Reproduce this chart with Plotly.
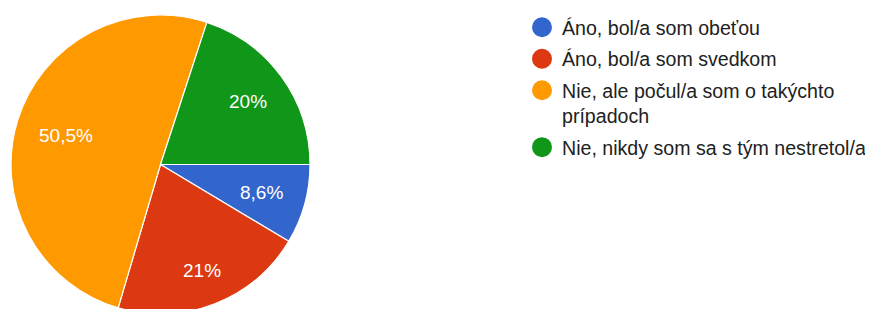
import math
import plotly.graph_objects as go

labels = ["Áno, bol/a som obeťou", "Áno, bol/a som svedkom",
          "Nie, ale počul/a som o takýchto<br>prípadoch", "Nie, nikdy som sa s tým nestretol/a"]
values = [8.6, 21, 50.5, 20]
text_labels = ["8,6%", "21%", "50,5%", "20%"]
colors = ["#3366CC", "#DC3912", "#FF9900", "#109618"]

W, H = 873, 309
M_T, M_B, M_L, M_R = 0, 3, 0, 0
PIE_X0, PIE_X1 = 3, 302          # pie domain in px (figure coords)
PIE_Y0, PIE_Y1 = 7, 306          # from top
FONT = "Liberation Sans, Arial, sans-serif"
LABEL_SIZE = 19
LEGEND_SIZE = 19.6
ROTATION = 90

plot_w = W - M_L - M_R
plot_h = H - M_T - M_B
dom_x = [(PIE_X0 - M_L) / plot_w, (PIE_X1 - M_L) / plot_w]
dom_y = [1 - (PIE_Y1 - M_T) / plot_h, 1 - (PIE_Y0 - M_T) / plot_h]

fig = go.Figure()
fig.add_trace(go.Pie(
    labels=labels, values=values, textinfo="none",
    sort=False, direction="clockwise", rotation=ROTATION,
    marker=dict(colors=colors, line=dict(color="white", width=1.2)),
    showlegend=False, domain=dict(x=dom_x, y=dom_y), hoverinfo="label+percent",
))

# legend via marker-only traces (circles)
for i, (lab, col) in enumerate(zip(labels, colors)):
    fig.add_trace(go.Scatter(x=[None], y=[None], mode="markers", name=lab,
                             legendgroup=f"g{i}",
                             marker=dict(color=col, size=16, symbol="circle",
                                         line=dict(color=col, width=4))))

# slice labels placed from the values (Google-style: text box kept inside ~0.85R)
R = min(PIE_X1 - PIE_X0, PIE_Y1 - PIE_Y0) / 2
cx_px = (PIE_X0 + PIE_X1) / 2
cy_px = (PIE_Y0 + PIE_Y1) / 2
char_w = {",": 0.278, "%": 0.889}
total = sum(values)
start = ROTATION
annotations = []
for v, t in zip(values, text_labels):
    span = v / total * 360
    mid = math.radians(start + span / 2)   # clockwise from 12 o'clock
    start += span
    sx, sy = math.sin(mid), -math.cos(mid)
    hw = sum(char_w.get(c, 0.556) for c in t) * LABEL_SIZE / 2
    hh = LABEL_SIZE * 0.358
    r = 0.85 * R - (hw * abs(sx) + hh * abs(sy))
    px = cx_px + r * sx
    py = cy_px + r * sy
    annotations.append(dict(
        x=(px - M_L) / plot_w, y=1 - (py - M_T) / plot_h, xref="paper", yref="paper",
        text=t, showarrow=False, xanchor="center", yanchor="middle",
        font=dict(color="white", size=LABEL_SIZE, family=FONT)))

fig.update_layout(
    width=W, height=H, margin=dict(l=M_L, r=M_R, t=M_T, b=M_B),
    paper_bgcolor="white", plot_bgcolor="white",
    xaxis=dict(visible=False), yaxis=dict(visible=False),
    annotations=annotations,
    legend=dict(x=514 / plot_w, y=1, xanchor="left", yanchor="top",
                traceorder="grouped", tracegroupgap=3, itemsizing="trace",
                valign="top",
                font=dict(family=FONT, size=LEGEND_SIZE, color="#212121")),
)
fig.write_html("out.html")
